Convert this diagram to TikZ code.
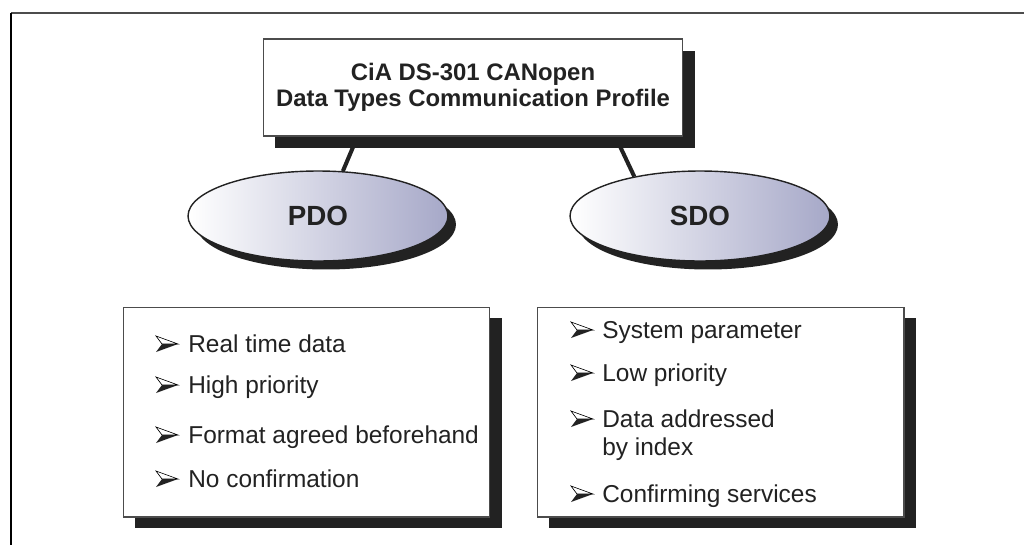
\documentclass[tikz,border=0pt]{standalone}
\usepackage{fontspec}
\setmainfont{Liberation Sans}
\usetikzlibrary{shapes.geometric,shadows,backgrounds}
\definecolor{ovalblue}{RGB}{166,168,200}
\definecolor{ink}{RGB}{34,34,34}
\tikzset{bullet/.pic={
    \draw[line width=.35pt,fill=white] (11,0) -- (-11,-8) -- (-5,0) -- cycle;
    \fill[ink] (11,0) -- (-5,0) -- (-11,8) -- cycle;}}
\begin{document}
\begin{tikzpicture}
  [x=0.02cm,y=-0.02cm,
   text=ink,
   heading/.style={rectangle,draw=black!70,line width=.6pt,fill=white,
     minimum width=8.4cm,minimum height=1.94cm,align=center,
     font=\fontsize{13.6}{14.8}\selectfont\bfseries,
     drop shadow={shadow xshift=.24cm,shadow yshift=-.24cm,opacity=1,fill=ink}},
   oval/.style={ellipse,draw=ink,line width=.8pt,left color=white,right color=ovalblue,
     minimum width=5.2cm,minimum height=1.8cm,font=\fontsize{15.8}{18}\selectfont\bfseries,
     drop shadow={shadow xshift=.16cm,shadow yshift=-.17cm,opacity=1,fill=ink}},
   listbox/.style={rectangle,draw=black!70,line width=.6pt,fill=white,
     minimum width=7.34cm,minimum height=4.2cm,
     drop shadow={shadow xshift=.24cm,shadow yshift=-.22cm,opacity=1,fill=ink}},
   item/.style={anchor=base west,inner sep=0pt,font=\fontsize{13.9}{16}\selectfont},
   link/.style={line width=2.3pt,draw=ink}]
  \useasboundingbox (0,0) rectangle (1024,545);
  % frame
  \draw[black!70,line width=1.2pt] (11,13) -- (1024,13);
  \draw[black,line width=.6pt] (11,13) -- (11,545);
  % profile and the two services
  \node at (473,87.5) (profile) [heading] {CiA DS-301 CANopen\\Data Types Communication Profile};
  \node at (318,216) (pdo) [oval] {\raisebox{-.08cm}{PDO}};
  \node at (700,216) (sdo) [oval] {\raisebox{-.08cm}{SDO}};
  \begin{scope}[on background layer]
    \draw [link] (profile.203) to (pdo.61);
    \draw [link] (profile.341) to (sdo.149);
  \end{scope}
  % lists
  \node at (306.5,412) (pdolist) [listbox] {};
  \node at (720.5,412) (sdolist) [listbox] {};
  \foreach \y/\txt [count=\i] in {352/Real time data,393/High priority,
      443/Format agreed beforehand,487/No confirmation} {
    \pic at (167,\y-8) {bullet};
    \node at (188,\y) (pdoitem\i) [item] {\txt};
  }
  \foreach \y/\txt [count=\i] in {338/System parameter,381/Low priority,
      427/Data addressed,502/Confirming services} {
    \pic at (582,\y-8) {bullet};
    \node at (602,\y) (sdoitem\i) [item] {\txt};
  }
  \node at (602,455) (sdoitem5) [item] {by index};
\end{tikzpicture}
\end{document}
